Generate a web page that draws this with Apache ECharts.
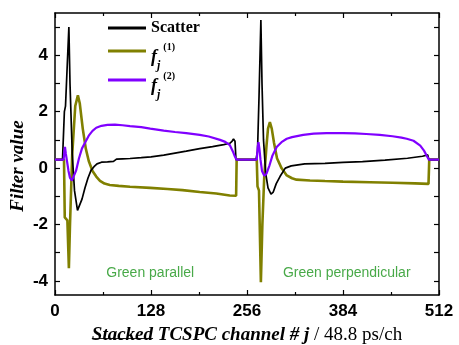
<!DOCTYPE html>
<html>
<head>
<meta charset="utf-8">
<script src="https://cdn.jsdelivr.net/npm/echarts@6/dist/echarts.min.js"></script>
<style>
  html, body { margin: 0; padding: 0; background: #ffffff; }
  #chart { width: 459px; height: 345px; }
</style>
</head>
<body>
<div id="chart"></div>
<script>
// Stacked TCSPC channels (parallel block 0-255, perpendicular block 256-511)
const scatterCh = [0, 10, 11.5, 12.5, 14, 18.5, 20, 23, 26, 30, 32, 36, 40, 44, 48, 52, 56, 62, 70, 78, 82, 90, 100, 115, 128, 145, 160, 175, 193, 210, 225, 233, 236, 238, 240, 241.3,
  268, 270, 272, 274.5, 276, 278, 281, 284, 288, 291, 295, 300, 307, 315, 333, 360, 384, 410, 440, 470, 490, 497, 498.5, 512];
const scatterVal = [0.3, 0.3, 0.35, 2.0, 2.2, 5.0, 3.0, 0.5, -0.8, -1.5, -1.45, -1.1, -0.7, -0.35, -0.08, 0.05, 0.15, 0.21, 0.22, 0.24, 0.32, 0.33, 0.34, 0.37, 0.4, 0.46, 0.53, 0.6, 0.69, 0.76, 0.83, 0.88, 0.95, 1.03, 0.95, 0.3,
  0.3, 0.6, 2.5, 5.25, 3.0, 1.0, -0.2, -0.7, -0.92, -0.85, -0.55, -0.3, 0.0, 0.08, 0.15, 0.17, 0.2, 0.23, 0.28, 0.35, 0.42, 0.47, 0.3, 0.3];

const f1Ch = [0, 12, 13, 15, 16.5, 18.5, 20, 23, 27, 30.5, 33, 37, 41, 45, 50, 55, 60, 66, 73, 85, 100, 127, 150, 170, 193, 215, 233, 241.5, 242.2,
  269, 270, 272, 274.5, 276.5, 279, 282, 284, 286.5, 289, 292, 296, 302, 309, 316, 322, 340, 360, 384, 420, 450, 480, 498, 499, 512];
const f1Val = [0.3, 0.3, -1.75, -1.8, -1.85, -3.55, -2.0, 0.5, 2.2, 2.58, 2.3, 1.4, 0.7, 0.25, -0.1, -0.3, -0.45, -0.55, -0.6, -0.63, -0.66, -0.7, -0.74, -0.78, -0.85, -0.9, -0.97, -0.98, 0.3,
  0.3, -0.65, -0.8, -4.05, -2.0, -0.3, 0.8, 1.4, 1.63, 1.4, 0.9, 0.35, 0.0, -0.26, -0.36, -0.41, -0.44, -0.46, -0.48, -0.5, -0.52, -0.54, -0.56, 0.3, 0.3];

const f2Ch = [0, 11.5, 12.5, 13.3, 14.5, 16, 18, 20, 22.5, 25, 28, 32, 36, 40, 45, 50, 55, 62, 70, 80, 90, 100, 115, 127, 145, 160, 175, 193, 205, 220, 227, 233, 237, 240, 242,
  269, 270.3, 271.3, 272.5, 274, 276, 279, 282, 286, 290, 295.6, 302, 309, 316, 331, 345, 362, 384, 400, 415, 433, 450, 462, 469, 478, 487, 492, 496, 498.5, 512];
const f2Val = [0.3, 0.3, 0.6, 0.75, 0.5, 0.25, -0.1, -0.35, -0.44, -0.38, -0.1, 0.35, 0.7, 0.9, 1.15, 1.32, 1.43, 1.5, 1.53, 1.54, 1.52, 1.49, 1.45, 1.4, 1.33, 1.28, 1.24, 1.18, 1.12, 1.0, 0.93, 0.82, 0.6, 0.4, 0.3,
  0.3, 0.75, 0.92, 0.7, 0.3, -0.1, -0.27, -0.2, 0.1, 0.45, 0.75, 0.92, 1.04, 1.1, 1.18, 1.22, 1.24, 1.24, 1.23, 1.21, 1.18, 1.13, 1.08, 1.04, 0.97, 0.8, 0.62, 0.42, 0.3, 0.3];

// Block annotations
const noteCh = [127, 389];
const noteVal = [-3.72, -3.72];
const noteText = ['Green parallel', 'Green perpendicular'];

// Axis ticks
const xTicks = [0, 128, 256, 384, 512];
const yLabelValues = [-4, -2, 0, 2, 4];
const yTickValues = [-4, -3, -2, -1, 0, 1, 2, 3, 4, 5];

const zip = (xs, ys) => xs.map((x, i) => [x, ys[i]]);

const serif = 'Liberation Serif';
const sans = 'Liberation Sans';

const chart = echarts.init(document.getElementById('chart'), null, { renderer: 'canvas' });

const strike = new echarts.graphic.LinearGradient(0, 0, 0, 1, [
  { offset: 0, color: 'rgba(0,0,0,0)' },
  { offset: 0.62, color: 'rgba(0,0,0,0)' },
  { offset: 0.62, color: '#222' },
  { offset: 0.68, color: '#222' },
  { offset: 0.68, color: 'rgba(0,0,0,0)' },
  { offset: 1, color: 'rgba(0,0,0,0)' }
]);

const fRich = {
  f: { fontFamily: serif, fontStyle: 'italic', fontWeight: 'bold', fontSize: 18, lineHeight: 30, color: '#000' },
  j: { fontFamily: serif, fontStyle: 'italic', fontWeight: 'bold', fontSize: 12, lineHeight: 1, verticalAlign: 'bottom', color: '#000' },
  s: { fontFamily: serif, fontWeight: 'bold', fontSize: 10, lineHeight: 16, verticalAlign: 'top', color: '#000', padding: [0, 0, 0, 3] }
};

const legendBase = {
  orient: 'vertical',
  left: 108,
  padding: 0,
  itemWidth: 38,
  itemHeight: 3,
  selectedMode: false
};

const frameLine = { show: true, onZero: false, lineStyle: { color: '#000', width: 1.5 } };
const tickStyle = { color: '#000', width: 1.2 };

const option = {
  animation: false,
  backgroundColor: '#ffffff',
  grid: { left: 55, right: 20, top: 13, bottom: 50, containLabel: false, outerBoundsMode: 'none' },
  legend: [
    Object.assign({}, legendBase, {
      top: 20,
      data: [{ name: 'Scatter', icon: 'rect' }],
      textStyle: { fontFamily: serif, fontWeight: 'bold', fontSize: 16, lineHeight: 16, color: '#000' }
    }),
    Object.assign({}, legendBase, {
      top: 42,
      data: [{ name: 'f(1)', icon: 'rect' }],
      formatter: () => '{f|f}{j|j}{s|(1)}',
      textStyle: { padding: [12, 0, 0, 0], rich: fRich }
    }),
    Object.assign({}, legendBase, {
      top: 71,
      data: [{ name: 'f(2)', icon: 'rect' }],
      formatter: () => '{f|f}{j|j}{s|(2)}',
      textStyle: { padding: [12, 0, 0, 0], rich: fRich }
    })
  ],
  xAxis: [
    {
      type: 'value', min: 0, max: 512, interval: 128, position: 'bottom',
      name: '{s|Stacked} {b|TCSPC channel #} {j|j} {r|/ 48.8 ps/ch}',
      nameLocation: 'middle', nameGap: 31, nameMoveOverlap: false,
      nameTextStyle: {
        fontFamily: serif, fontSize: 19, color: '#000',
        rich: {
          s: { fontFamily: serif, fontSize: 19, fontStyle: 'italic', fontWeight: 'bold', color: '#000', backgroundColor: strike },
          b: { fontFamily: serif, fontSize: 19, fontStyle: 'italic', fontWeight: 'bold', color: '#000' },
          j: { fontFamily: serif, fontSize: 19, fontStyle: 'italic', fontWeight: 'bold', color: '#000' },
          r: { fontFamily: serif, fontSize: 19, color: '#000' }
        }
      },
      axisLine: frameLine,
      axisTick: { show: true, inside: true, length: 5, lineStyle: tickStyle },
      minorTick: { show: true, splitNumber: 2, length: 3, lineStyle: tickStyle },
      axisLabel: { show: true, margin: 8, fontFamily: sans, fontWeight: 'bold', fontSize: 17, color: '#000',
        customValues: xTicks },
      splitLine: { show: false }
    },
    {
      type: 'value', min: 0, max: 512, interval: 128, position: 'top',
      axisLine: frameLine,
      axisTick: { show: true, inside: true, length: 5, lineStyle: tickStyle },
      minorTick: { show: true, splitNumber: 2, length: 3, lineStyle: tickStyle },
      axisLabel: { show: false },
      splitLine: { show: false }
    }
  ],
  yAxis: [
    {
      type: 'value', min: -4.5, max: 5.5, position: 'left',
      name: 'Filter value', nameLocation: 'middle', nameGap: 27, nameRotate: 90, nameMoveOverlap: false,
      nameTextStyle: { fontFamily: serif, fontStyle: 'italic', fontWeight: 'bold', fontSize: 19, color: '#000',
        padding: [0, 24, 0, 0] },
      axisLine: frameLine,
      axisTick: { show: true, inside: true, length: 5, customValues: yTickValues, lineStyle: tickStyle },
      axisLabel: { show: true, margin: 7, fontFamily: sans, fontWeight: 'bold', fontSize: 17, color: '#000',
        customValues: yLabelValues },
      splitLine: { show: false }
    },
    {
      type: 'value', min: -4.5, max: 5.5, position: 'right',
      axisLine: frameLine,
      axisTick: { show: true, inside: true, length: 5, customValues: yTickValues, lineStyle: tickStyle },
      axisLabel: { show: false },
      splitLine: { show: false }
    }
  ],
  series: [
    {
      name: 'f(1)', type: 'line', xAxisIndex: 0, yAxisIndex: 0,
      data: zip(f1Ch, f1Val), showSymbol: false, symbol: 'none',
      lineStyle: { color: '#808000', width: 2.6 }, itemStyle: { color: '#808000' }, z: 2
    },
    {
      name: 'Scatter', type: 'line', xAxisIndex: 0, yAxisIndex: 0,
      data: zip(scatterCh, scatterVal), showSymbol: false, symbol: 'none',
      lineStyle: { color: '#000000', width: 1.7 }, itemStyle: { color: '#000000' }, z: 3
    },
    {
      name: 'f(2)', type: 'line', xAxisIndex: 0, yAxisIndex: 0,
      data: zip(f2Ch, f2Val), showSymbol: false, symbol: 'none',
      lineStyle: { color: '#8000ff', width: 2.2 }, itemStyle: { color: '#8000ff' }, z: 4
    },
    {
      name: 'notes', type: 'scatter', xAxisIndex: 0, yAxisIndex: 0,
      data: noteCh.map((x, i) => [x, noteVal[i], noteText[i]]),
      symbolSize: 0, silent: true,
      label: { show: true, position: 'inside', formatter: p => p.data[2],
        fontFamily: sans, fontSize: 14, color: '#1a931a' }
    }
  ]
};

chart.setOption(option);
</script>
</body>
</html>
